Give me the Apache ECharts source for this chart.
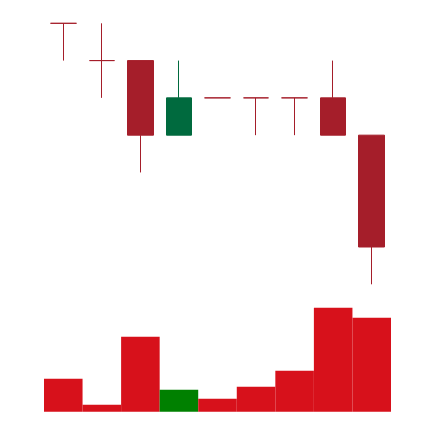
<!DOCTYPE html>
<html>
<head>
<meta charset="utf-8">
<script src="https://cdn.jsdelivr.net/npm/echarts@6/dist/echarts.min.js"></script>
<style>html,body{margin:0;padding:0;background:#fff;}#c{width:434px;height:422px;}</style>
</head>
<body>
<div id="c"></div>
<script>
const categories = ['1','2','3','4','5','6','7','8','9'];
const opens  = [10, 9, 9, 7, 8, 8, 8, 8, 7];
const closes = [10, 9, 7, 8, 8, 8, 8, 7, 4];
const lows   = [9, 8, 6, 7, 8, 7, 7, 7, 3];
const highs  = [10, 10, 9, 9, 8, 8, 8, 9, 7];
const volumes = [330, 70, 750, 220, 130, 250, 410, 1040, 940];

const RED = '#a51e2a', GREEN = '#006a3e';
const VRED = '#d7111b', VGREEN = '#008000';

const candleData = categories.map((c, i) => {
  const item = { value: [opens[i], closes[i], lows[i], highs[i]] };
  if (opens[i] === closes[i]) {
    item.itemStyle = { color: RED, color0: RED, borderColor: RED, borderColor0: RED };
  }
  return item;
});
const volData = categories.map((c, i) => ({
  value: volumes[i],
  itemStyle: { color: closes[i] > opens[i] ? VGREEN : VRED }
}));

const chart = echarts.init(document.getElementById('c'));
chart.setOption({
  animation: false,
  grid: [
    { left: 44, width: 347, top: 23.3, height: 261 },
    { left: 44, width: 347, top: 307.7, height: 104 }
  ],
  xAxis: [
    { type: 'category', data: categories, gridIndex: 0, show: false },
    { type: 'category', data: categories, gridIndex: 1, show: false }
  ],
  yAxis: [
    { type: 'value', gridIndex: 0, min: 3, max: 10, show: false },
    { type: 'value', gridIndex: 1, min: 0, max: 1040, show: false }
  ],
  series: [
    {
      type: 'candlestick',
      xAxisIndex: 0, yAxisIndex: 0,
      data: candleData,
      barWidth: 26,
      itemStyle: { color: GREEN, color0: RED, borderColor: GREEN, borderColor0: RED, borderWidth: 1 }
    },
    {
      type: 'bar',
      xAxisIndex: 1, yAxisIndex: 1,
      data: volData,
      barCategoryGap: 0
    }
  ]
});
</script>
</body>
</html>
